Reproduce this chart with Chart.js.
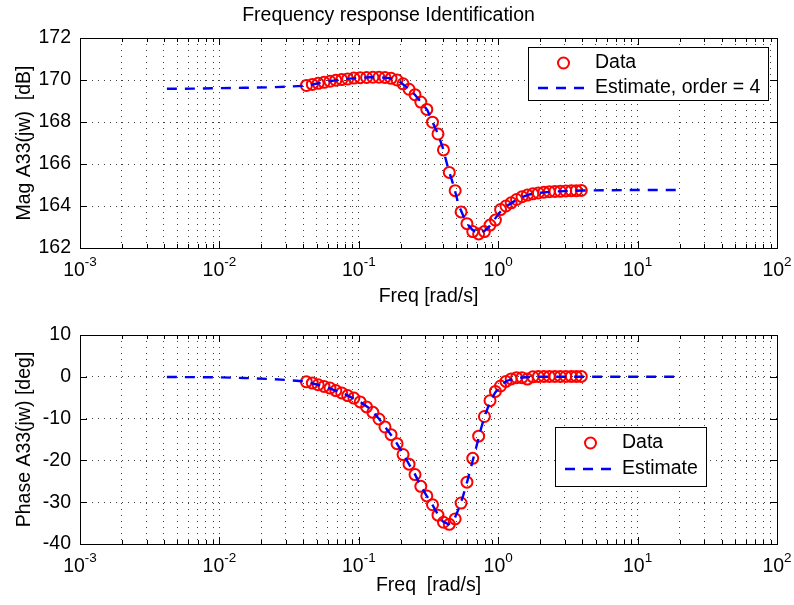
<!DOCTYPE html>
<html>
<head>
<meta charset="utf-8">
<script src="https://cdn.jsdelivr.net/npm/chart.js@4.4.0/dist/chart.umd.min.js"></script>
<style>
  body { margin: 0; background: #fff; }
  #wrap { position: relative; width: 794px; height: 605px; }
  canvas { position: absolute; left: 0; }
</style>
</head>
<body>
<div id="wrap">
  <canvas id="mag-chart" width="794" height="310" style="top:0px"></canvas>
  <canvas id="phase-chart" width="794" height="295" style="top:310px"></canvas>
</div>
<script>
// measured frequency response (rad/s)
var freqData = [0.0421, 0.0464, 0.0511, 0.0563, 0.0621, 0.0684, 0.0754, 0.0832, 0.0922, 0.1023,
    0.1137, 0.1262, 0.1395, 0.1541, 0.1704, 0.1881, 0.2077, 0.2293, 0.2531, 0.2785,
    0.3075, 0.3378, 0.3699, 0.4049, 0.4457, 0.4912, 0.5415, 0.5968, 0.6566, 0.7239,
    0.7964, 0.8736, 0.9548, 1.040, 1.136, 1.239, 1.354, 1.481, 1.619, 1.773,
    1.941, 2.126, 2.327, 2.548, 2.790, 3.055, 3.345, 3.633, 3.945];

var magData = [169.74, 169.79, 169.84, 169.89, 169.94, 169.99, 170.02, 170.05, 170.09, 170.11,
    170.12, 170.13, 170.13, 170.12, 170.08, 170.00, 169.82, 169.56, 169.30, 168.95,
    168.60, 167.99, 167.43, 166.67, 165.60, 164.73, 163.72, 163.16, 162.78, 162.67,
    162.78, 163.09, 163.33, 163.83, 164.00, 164.15, 164.31, 164.44, 164.52, 164.58,
    164.62, 164.66, 164.68, 164.69, 164.70, 164.72, 164.73, 164.73, 164.74];

var phaseData = [-1.2, -1.5, -1.9, -2.3, -2.7, -3.3, -3.85, -4.5, -5.1, -6.0,
    -7.2, -8.5, -10.1, -12.0, -13.85, -16.0, -18.6, -20.9, -23.4, -26.2,
    -28.5, -30.6, -33.1, -34.8, -35.3, -34.0, -30.2, -25.2, -19.5, -14.2,
    -9.5, -5.7, -3.5, -2.2, -1.1, -0.5, -0.2, -0.2, -0.55, 0.0,
    0.05, 0.1, 0.1, 0.1, 0.1, 0.1, 0.1, 0.1, 0.1];

// 4th order model
var freqEst = [0.0042, 0.0065, 0.01, 0.015, 0.022, 0.03, 0.042, 0.06, 0.08, 0.1,
    0.12, 0.14, 0.16, 0.18, 0.2, 0.22, 0.25, 0.28, 0.31, 0.34,
    0.37, 0.4, 0.44, 0.48, 0.52, 0.56, 0.6, 0.65, 0.7, 0.75,
    0.8, 0.87, 0.95, 1.05, 1.15, 1.3, 1.5, 1.7, 2.0, 2.4,
    3.0, 4.0, 6.0, 9.0, 14.0, 20.0];

var magEst = [169.58, 169.59, 169.61, 169.63, 169.65, 169.68, 169.73, 169.93, 170.05, 170.10,
    170.13, 170.13, 170.10, 170.04, 169.88, 169.66, 169.33, 168.94, 168.57, 167.96,
    167.43, 166.78, 165.73, 164.95, 164.05, 163.55, 163.15, 162.88, 162.72, 162.72,
    162.82, 163.05, 163.40, 163.78, 164.00, 164.22, 164.43, 164.56, 164.63, 164.68,
    164.71, 164.74, 164.75, 164.76, 164.76, 164.76];

var phaseEst = [-0.05, -0.08, -0.13, -0.28, -0.5, -0.75, -1.15, -2.6, -4.2, -5.8,
    -7.6, -10.1, -12.7, -15.0, -17.5, -19.9, -23.0, -26.3, -28.7, -30.8,
    -33.0, -34.6, -35.3, -34.4, -31.6, -28.5, -25.0, -20.6, -16.5, -12.6,
    -9.4, -6.2, -3.8, -2.0, -1.0, -0.4, -0.15, -0.05, 0.0, 0.0,
    0.0, 0.0, 0.0, 0.0, 0.0, 0.0];

var decades = [-3, -2, -1, 0, 1, 2];
var magTicks = [162, 164, 166, 168, 170, 172];
var phaseTicks = [-40, -30, -20, -10, 0, 10];

var FONT_FAMILY = "'Liberation Sans', Arial, sans-serif";
var FONT_SIZE = 19.5;
Chart.defaults.font.family = FONT_FAMILY;
Chart.defaults.font.size = FONT_SIZE;
Chart.defaults.color = '#000';

// log grid: 1..9 x 10^k for each decade, plus the last decade
var logGrid = [];
decades.forEach(function (d, i) {
    if (i === decades.length - 1) {
        logGrid.push(Math.pow(10, d));
        return;
    }
    for (var m = 1; m <= 9; m++) {
        logGrid.push(Number((m * Math.pow(10, d)).toPrecision(3)));
    }
});

function isPow10(v) {
    var e = Math.log10(v);
    return Math.abs(e - Math.round(e)) < 1e-6;
}

function toPoints(xs, ys) {
    return xs.map(function (x, i) {
        return { x: x, y: ys[i] };
    });
}

// box round the axes and inward tick marks, matlab style
var axesBox = {
    id: 'axesBox',
    afterDraw: function (chart) {
        var ctx = chart.ctx, a = chart.chartArea, sx = chart.scales.x, sy = chart.scales.y;
        ctx.save();
        ctx.strokeStyle = '#000';
        ctx.lineWidth = 1;
        ctx.beginPath();
        sx.ticks.forEach(function (t) {
            var x = Math.round(sx.getPixelForValue(t.value)) + 0.5;
            var len = isPow10(t.value) ? 7 : 4;
            ctx.moveTo(x, a.bottom);
            ctx.lineTo(x, a.bottom - len);
            ctx.moveTo(x, a.top);
            ctx.lineTo(x, a.top + len);
        });
        sy.ticks.forEach(function (t) {
            var y = Math.round(sy.getPixelForValue(t.value)) + 0.5;
            ctx.moveTo(a.left, y);
            ctx.lineTo(a.left + 7, y);
            ctx.moveTo(a.right, y);
            ctx.lineTo(a.right - 7, y);
        });
        ctx.stroke();
        ctx.strokeRect(Math.round(a.left) + 0.5, Math.round(a.top) + 0.5,
            Math.round(a.right - a.left), Math.round(a.bottom - a.top));
        ctx.restore();
    }
};

// legend box inside the plot
var boxLegend = {
    id: 'boxLegend',
    afterDraw: function (chart, args, opts) {
        var ctx = chart.ctx;
        var ds = chart.data.datasets;
        ctx.save();
        ctx.fillStyle = '#fff';
        ctx.fillRect(opts.x, opts.y, opts.w, opts.h);
        ctx.strokeStyle = '#000';
        ctx.lineWidth = 1;
        ctx.strokeRect(opts.x + 0.5, opts.y + 0.5, opts.w, opts.h);
        ctx.font = FONT_SIZE + 'px ' + FONT_FAMILY;
        ctx.textBaseline = 'middle';
        [ds[1], ds[0]].forEach(function (d, i) {
            var y = opts.y + opts.rowTop + i * opts.rowGap;
            var lx = opts.x + 10;
            if (d.showLine) {
                ctx.save();
                ctx.strokeStyle = d.borderColor;
                ctx.lineWidth = d.borderWidth;
                ctx.setLineDash(d.borderDash);
                ctx.beginPath();
                ctx.moveTo(lx, y);
                ctx.lineTo(lx + 51, y);
                ctx.stroke();
                ctx.restore();
            } else {
                ctx.save();
                ctx.strokeStyle = d.borderColor;
                ctx.lineWidth = d.borderWidth;
                ctx.beginPath();
                ctx.arc(lx + 25.5, y, d.pointRadius, 0, Math.PI * 2);
                ctx.stroke();
                ctx.restore();
            }
            ctx.fillStyle = '#000';
            ctx.fillText(d.label, lx + 57, y);
        });
        ctx.restore();
    }
};

// 10^k tick labels
var expTicks = {
    id: 'expTicks',
    afterDraw: function (chart) {
        var ctx = chart.ctx, sx = chart.scales.x;
        var yb = chart.chartArea.bottom + 28;
        var baseFont = FONT_SIZE + 'px ' + FONT_FAMILY;
        var supFont = '13.5px ' + FONT_FAMILY;
        ctx.save();
        ctx.fillStyle = '#000';
        ctx.textBaseline = 'alphabetic';
        ctx.textAlign = 'left';
        sx.ticks.forEach(function (t) {
            if (!isPow10(t.value)) return;
            var ex = String(Math.round(Math.log10(t.value)));
            ctx.font = baseFont;
            var w1 = ctx.measureText('10').width;
            ctx.font = supFont;
            var w2 = ctx.measureText(ex).width;
            var x0 = sx.getPixelForValue(t.value) - (w1 + w2) / 2;
            ctx.font = baseFont;
            ctx.fillText('10', x0, yb);
            ctx.font = supFont;
            ctx.fillText(ex, x0 + w1, yb - 10);
        });
        ctx.restore();
    }
};

function makeChart(canvasId, cfg) {
    var estimate = {
        label: cfg.estLabel,
        data: toPoints(freqEst, cfg.est),
        showLine: true,
        borderColor: '#0000ff',
        borderWidth: 2.4,
        borderDash: [10, 8],
        pointRadius: 0,
        fill: false,
        tension: 0
    };
    var measured = {
        label: 'Data',
        data: toPoints(freqData, cfg.data),
        showLine: false,
        borderColor: '#ff0000',
        backgroundColor: 'rgba(0,0,0,0)',
        borderWidth: 2,
        pointRadius: 5.5,
        pointStyle: 'circle'
    };
    var yTicks = cfg.yTicks;
    return new Chart(document.getElementById(canvasId).getContext('2d'), {
        type: 'scatter',
        data: { datasets: [estimate, measured] },
        options: {
            responsive: false,
            animation: false,
            layout: { padding: { left: 0, right: 17, top: cfg.padTop, bottom: 0 } },
            plugins: {
                legend: { display: false },
                tooltip: { enabled: false },
                title: cfg.title ? {
                    display: true,
                    text: cfg.title,
                    color: '#000',
                    font: { size: FONT_SIZE, weight: 'normal' },
                    padding: { top: 4, bottom: 10.6 }
                } : { display: false },
                boxLegend: cfg.legend
            },
            scales: {
                x: {
                    type: 'logarithmic',
                    min: Math.pow(10, decades[0]),
                    max: Math.pow(10, decades[decades.length - 1]),
                    afterBuildTicks: function (scale) {
                        scale.ticks = logGrid.map(function (v) { return { value: v }; });
                    },
                    afterFit: function (scale) { scale.height = cfg.xHeight; },
                    ticks: { display: false, autoSkip: false },
                    grid: { color: 'rgba(0,0,0,0.75)', lineWidth: 1, drawTicks: false },
                    border: { display: false, dash: [1, 5] },
                    title: {
                        display: true,
                        text: cfg.xTitle,
                        color: '#000',
                        font: { size: FONT_SIZE },
                        padding: { top: 0, bottom: cfg.xTitlePad }
                    }
                },
                y: {
                    type: 'linear',
                    min: yTicks[0],
                    max: yTicks[yTicks.length - 1],
                    afterBuildTicks: function (scale) {
                        scale.ticks = yTicks.map(function (v) { return { value: v }; });
                    },
                    afterFit: function (scale) { scale.width = 80; },
                    ticks: { padding: 9, color: '#000' },
                    grid: { color: 'rgba(0,0,0,0.75)', lineWidth: 1, drawTicks: false },
                    border: { display: false, dash: [1, 5] },
                    title: {
                        display: true,
                        text: cfg.yTitle,
                        color: '#000',
                        font: { size: FONT_SIZE },
                        padding: { top: 13.3, bottom: 0 }
                    }
                }
            }
        },
        plugins: [axesBox, boxLegend, expTicks]
    });
}

var magChart = makeChart('mag-chart', {
    title: 'Frequency response Identification',
    padTop: 0,
    xHeight: 62,
    xTitlePad: 1.3,
    xTitle: 'Freq [rad/s]',
    yTitle: 'Mag A33(jw)  [dB]',
    yTicks: magTicks,
    data: magData,
    est: magEst,
    estLabel: 'Estimate, order = 4',
    legend: { x: 528, y: 47, w: 240, h: 53, rowTop: 16, rowGap: 25 }
});

var phaseChart = makeChart('phase-chart', {
    title: null,
    padTop: 25,
    xHeight: 61,
    xTitlePad: 7.3,
    xTitle: 'Freq  [rad/s]',
    yTitle: 'Phase A33(jw) [deg]',
    yTicks: phaseTicks,
    data: phaseData,
    est: phaseEst,
    estLabel: 'Estimate',
    legend: { x: 555, y: 117, w: 151, h: 59, rowTop: 16, rowGap: 26 }
});
</script>
</body>
</html>
